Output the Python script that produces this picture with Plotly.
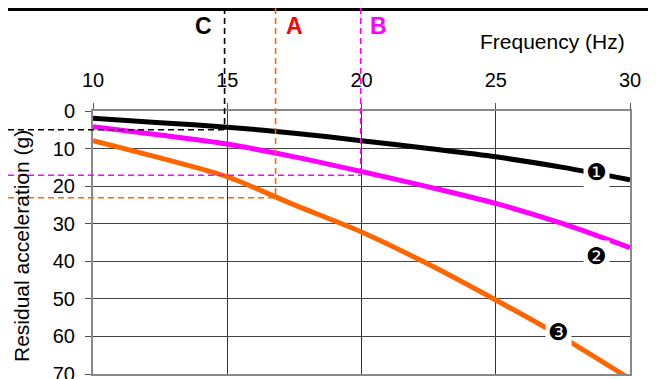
import plotly.graph_objects as go

# Residual acceleration vs frequency, three isolation curves
freq = [10, 12.5, 15, 17.5, 20, 22.5, 25, 27.5, 30]
curve_1 = [1.9, 3.1, 4.3, 5.9, 7.9, 10.0, 12.2, 15.0, 18.3]
curve_2 = [4.2, 6.4, 8.8, 12.2, 16.1, 20.2, 24.6, 30.0, 36.4]
curve_3 = [7.9, 12.5, 17.5, 25.0, 32.2, 40.8, 50.3, 60.3, 71.3]
colors = ['black', '#FF00FF', '#FF6600']

# reading points: frequency marker and the acceleration read on the curve
marker_names = ['C', 'A', 'B']
marker_freq = [14.9, 16.8, 19.97]
marker_acc = [5.0, 23.1, 17.1]
marker_colors = ['black', '#FF6600', '#FF00FF']
marker_text_colors = ['black', '#FF0000', '#FF00FF']
marker_shift = [-21, 19, 18]

# curve labels
label_text = ['\u2776', '\u2777', '\u2778']
label_x = [28.77, 28.77, 27.32]
label_y = [16.3, 38.6, 58.8]

X_MIN, X_MAX = 10, 30
Y_MAX = 70
FONT = 'Arial, Liberation Sans, sans-serif'

# the page puts the figure 8px in from the top-left corner
OFF = 8
W, H = 656 - OFF, 379 - OFF
L, R, T, B = 93 - OFF, 26, 111 - OFF, 5
pw, ph = W - L - R, H - T - B


def xp(v):
    return (v - X_MIN) / (X_MAX - X_MIN)


def yp(v):
    return (Y_MAX - v) / Y_MAX


def page_x(px):
    return (px - OFF - L) / pw


def page_y(py):
    return 1 + (T - (py - OFF)) / ph


fig = go.Figure()
for ys, c in zip([curve_1, curve_2, curve_3], colors):
    fig.add_trace(go.Scatter(x=freq, y=ys, mode='lines',
                             line=dict(color=c, width=5, shape='spline', smoothing=0.8),
                             showlegend=False, hoverinfo='skip'))

shapes = []
# thick rule along the top of the picture
shapes.append(dict(type='line', xref='paper', yref='paper',
                   x0=-L / pw, x1=(W - L) / pw,
                   y0=1 + (T - 1.5) / ph, y1=1 + (T - 1.5) / ph,
                   line=dict(color='black', width=3)))
for f, a, c in zip(marker_freq, marker_acc, marker_colors):
    # vertical from top of figure down to the curve
    shapes.append(dict(type='line', xref='x', yref='paper',
                       x0=f, x1=f, y0=1 + T / ph, y1=yp(a),
                       line=dict(color=c, width=1.6, dash='6px,4px')))
    # horizontal from left edge to the curve
    shapes.append(dict(type='line', xref='paper', yref='y',
                       x0=-L / pw, x1=xp(f), y0=a, y1=a,
                       line=dict(color=c, width=1.6, dash='6px,4px')))

annotations = []
for n, f, tc, sh in zip(marker_names, marker_freq, marker_text_colors, marker_shift):
    annotations.append(dict(text='<b>' + n + '</b>', x=f, xref='x',
                            y=page_y(26), yref='paper', xshift=sh,
                            xanchor='center', yanchor='middle', showarrow=False,
                            font=dict(family=FONT, size=23, color=tc)))
for t, x, y in zip(label_text, label_x, label_y):
    annotations.append(dict(text=t, x=x, y=y, xref='x', yref='y',
                            xanchor='center', yanchor='middle',
                            showarrow=False, bgcolor='white', borderpad=2,
                            font=dict(family='DejaVu Sans', size=23, color='black')))
annotations.append(dict(text='Frequency (Hz)', x=page_x(552), y=page_y(42),
                        xref='paper', yref='paper', xanchor='center', yanchor='middle',
                        showarrow=False,
                        font=dict(family=FONT, size=21, color='black')))
annotations.append(dict(text='Residual acceleration (g)', x=page_x(21), y=page_y(246),
                        xref='paper', yref='paper', xanchor='center', yanchor='middle',
                        textangle=-90, showarrow=False,
                        font=dict(family=FONT, size=21, color='black')))

fig.update_layout(
    width=W, height=H,
    margin=dict(l=L, r=R, t=T, b=B),
    paper_bgcolor='white', plot_bgcolor='white',
    font=dict(family=FONT, size=20, color='black'),
    shapes=shapes,
    annotations=annotations,
)
fig.update_xaxes(range=[X_MIN, X_MAX], side='top', tickvals=[10, 15, 20, 25, 30],
                 showgrid=True, gridcolor='#333', gridwidth=1,
                 showline=True, linecolor='#888', linewidth=2, mirror=True,
                 ticks='outside', ticklen=6, tickcolor='#555',
                 ticklabelstandoff=8, zeroline=False, automargin=False)
fig.update_yaxes(range=[Y_MAX, 0], tickvals=[0, 10, 20, 30, 40, 50, 60, 70],
                 showgrid=True, gridcolor='#444', gridwidth=1,
                 showline=True, linecolor='#888', linewidth=2, mirror=True,
                 ticks='outside', ticklen=6, tickcolor='#555',
                 ticklabelstandoff=6, ticklabeloverflow='allow', zeroline=False,
                 automargin=False)

fig.write_html("out.html")
